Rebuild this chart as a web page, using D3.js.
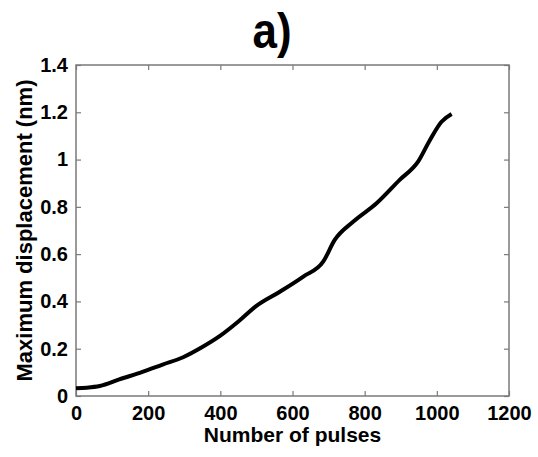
<!DOCTYPE html>
<html><head><meta charset="utf-8">
<script src="https://cdn.jsdelivr.net/npm/d3@7"></script>
<style>body{margin:0;background:#fff}svg{display:block}text{font-family:"Liberation Sans",Arial,sans-serif;font-weight:bold}</style>
</head><body><svg id="c" width="538" height="457"></svg>
<script>
const pulses = [0, 30, 66, 120, 186, 240, 297, 350, 399, 450, 500, 565, 630, 685, 717, 768, 833, 897, 948, 981, 1013, 1041];
const displacement = [0.033, 0.035, 0.042, 0.07, 0.103, 0.133, 0.164, 0.207, 0.254, 0.315, 0.381, 0.441, 0.505, 0.568, 0.66, 0.737, 0.815, 0.914, 0.991, 1.083, 1.16, 1.193];
const xTicks = [0, 200, 400, 600, 800, 1000, 1200];
const yTicks = [0, 0.2, 0.4, 0.6, 0.8, 1, 1.2, 1.4];
const title = "a)";
const xLabel = "Number of pulses";
const yLabel = "Maximum displacement (nm)";

const L = 76, R = 509, T = 65, B = 396;
const svg = d3.select("#c");
const x = d3.scaleLinear().domain([0, 1200]).range([L, R]);
const y = d3.scaleLinear().domain([0, 1.4]).range([B, T]);
const axisColor = "#7a7a7a";

function styleAxis(g, hideText) {
  g.select(".domain").remove();
  g.selectAll(".tick line").attr("stroke", axisColor).attr("stroke-width", 1.2);
  g.selectAll(".tick text").attr("fill", "#000").attr("font-size", 20).attr("font-weight", "bold")
    .attr("font-family", "'Liberation Sans', Arial, sans-serif");
  if (hideText) g.selectAll(".tick text").remove();
}
svg.append("g").attr("transform", `translate(0,${B})`)
  .call(d3.axisBottom(x).tickValues(xTicks).tickSize(-5).tickPadding(10).tickFormat(d3.format("d")))
  .call(g => styleAxis(g, false));
svg.append("g").attr("transform", `translate(0,${T})`)
  .call(d3.axisTop(x).tickValues(xTicks).tickSize(-5).tickFormat(""))
  .call(g => styleAxis(g, true));
svg.append("g").attr("transform", `translate(${L},0)`)
  .call(d3.axisLeft(y).tickValues(yTicks).tickSize(-5).tickPadding(8).tickFormat(d => d3.format("")(+d.toFixed(1))))
  .call(g => styleAxis(g, false));
svg.append("g").attr("transform", `translate(${R},0)`)
  .call(d3.axisRight(y).tickValues(yTicks).tickSize(-5).tickFormat(""))
  .call(g => styleAxis(g, true));

svg.append("rect").attr("x", L).attr("y", T).attr("width", R - L).attr("height", B - T)
  .attr("fill", "none").attr("stroke", axisColor).attr("stroke-width", 1.5);

const data = pulses.map((p, i) => [p, displacement[i]]);
svg.append("path").datum(data)
  .attr("d", d3.line().x(d => x(d[0])).y(d => y(d[1])).curve(d3.curveMonotoneX))
  .attr("fill", "none").attr("stroke", "#000").attr("stroke-width", 4).attr("stroke-linejoin", "round");

svg.append("text").attr("transform", "translate(272,48) scale(1,1.12)").attr("text-anchor", "middle").attr("font-size", 44).text(title);
svg.append("text").attr("x", (L + R) / 2).attr("y", 442).attr("text-anchor", "middle").attr("font-size", 21).text(xLabel);
svg.append("text").attr("transform", `translate(32,${(T + B) / 2}) rotate(-90)`).attr("text-anchor", "middle")
  .attr("font-size", 22).text(yLabel);
</script></body></html>
